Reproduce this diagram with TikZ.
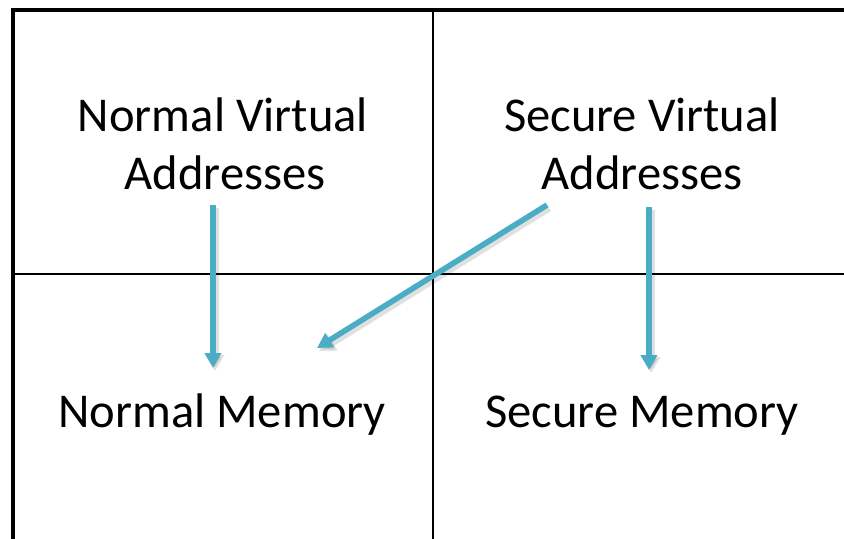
\documentclass[tikz,border=0pt]{standalone}
\usepackage{fontspec}
\setmainfont{Carlito}
\usetikzlibrary{arrows.meta}
\definecolor{arrowblue}{HTML}{4BACC6}
\tikzset{
  grid line/.style={draw=black, line width=1.4pt},
  border line/.style={draw=black, line width=1.6pt},
  label text/.style={font=\fontsize{24.3}{29}\selectfont, align=center, inner sep=0pt, anchor=base},
  flow arrow/.style={draw=arrowblue, line width=2.8pt, -{Triangle[width=8pt,length=7.5pt]}},
  flow shadow/.style={draw=black, opacity=0.12, line width=3.6pt, -{Triangle[width=9pt,length=8pt]}}
}
\begin{document}
\begin{tikzpicture}[x=0.5pt,y=-0.5pt]
\useasboundingbox (0,0) rectangle (844,539);
% grid
\coordinate (tl) at (13,10);
\coordinate (tr) at (844,10);
\coordinate (bl) at (13,539);
\coordinate (ml) at (13,274);
\coordinate (mr) at (844,274);
\coordinate (mt) at (433,10);
\coordinate (mb) at (433,539);
\draw[border line] (bl) -- (tl) -- (tr);
\draw[grid line] (ml) -- (mr);
\draw[grid line] (mt) -- (mb);
% texts
\node[label text] (nva) at (223,132) {Normal Virtual};
\node[label text] (nva2) at (225,190) {Addresses};
\node[label text] (sva) at (642,132) {Secure Virtual};
\node[label text] (sva2) at (642,190) {Addresses};
\node[label text] (nm) at (222,427) {Normal Memory};
\node[label text] (sm) at (642,427) {Secure Memory};
% arrow endpoints
\coordinate (a1s) at (213,205);
\coordinate (a1e) at (213,368);
\coordinate (a2s) at (649,207);
\coordinate (a2e) at (649,370);
\coordinate (a3s) at (547,205);
\coordinate (a3e) at (317,348);
% shadows
\draw[flow shadow] ([shift={(2,3)}]a1s) -- ([shift={(2,3)}]a1e);
\draw[flow shadow] ([shift={(2,3)}]a2s) -- ([shift={(2,3)}]a2e);
\draw[flow shadow] ([shift={(2,3)}]a3s) -- ([shift={(2,3)}]a3e);
% arrows
\draw[flow arrow] (a1s) -- (a1e);
\draw[flow arrow] (a2s) -- (a2e);
\draw[flow arrow] (a3s) -- (a3e);
\end{tikzpicture}
\end{document}
